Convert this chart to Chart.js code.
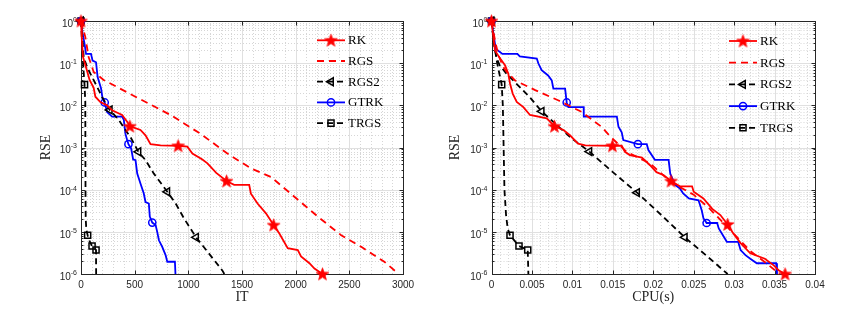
<!DOCTYPE html>
<html>
<head>
<meta charset="utf-8">
<script src="https://cdn.jsdelivr.net/npm/chart.js@4.4.1/dist/chart.umd.min.js"></script>
<style>
    html, body { margin: 0; padding: 0; background: #fff; }
    #wrap { position: relative; width: 858px; height: 317px; }
    canvas { position: absolute; top: 0; }
    #leftChart { left: 0; }
    #rightChart { left: 429px; }
</style>
</head>
<body>
<div id="wrap">
    <canvas id="leftChart" width="429" height="317"></canvas>
    <canvas id="rightChart" width="429" height="317"></canvas>
</div>
<script>
const seriesNames = ['RK', 'RGS', 'RGS2', 'GTRK', 'TRGS'];
const rseTicks = [1e-6, 1e-5, 1e-4, 1e-3, 1e-2, 1e-1, 1];

// RSE against iterations (left panel)
const itTicks = [0, 500, 1000, 1500, 2000, 2500, 3000];
const rkIt = [[0,1],[8,0.35],[19,0.14],[50,0.075],[80,0.04],[118,0.026],[134,0.016],[180,0.012],[243,0.010],[290,0.0076],[383,0.0059],[430,0.0041],[455,0.0032],[554,0.0026],[601,0.00195],[648,0.0012],[741,0.00112],[905,0.0011],[991,0.00105],[1038,7.2e-4],[1131,5.2e-4],[1178,4.2e-4],[1260,2.5e-4],[1356,1.6e-4],[1427,1.3e-4],[1567,1.3e-4],[1583,8.0e-5],[1645,4.7e-5],[1723,2.75e-5],[1795,1.45e-5],[1848,9.1e-6],[1926,4.1e-6],[2020,3.7e-6],[2050,2.6e-6],[2128,1.8e-6],[2175,1.35e-6],[2250,1e-6]];
const rgsIt = [[0,1],[40,0.42],[71,0.14],[118,0.062],[211,0.04],[507,0.016],[835,5.9e-3],[1115,2.1e-3],[1364,7.2e-4],[1583,3.2e-4],[1770,2.0e-4],[1988,6.8e-5],[2206,2.3e-5],[2424,8.3e-6],[2611,4.4e-6],[2826,1.95e-6],[2960,1e-6]];
const rgs2It = [[0,1],[10,0.5],[25,0.14],[56,0.081],[103,0.047],[150,0.0275],[196,0.0158],[268,0.0078],[352,0.0045],[414,0.0026],[467,0.00166],[535,7.9e-4],[601,5.0e-4],[679,2.4e-4],[804,8.9e-5],[882,4.7e-5],[959,2.1e-5],[1072,7.4e-6],[1178,3.4e-6],[1318,1.2e-6],[1335,1e-6]];
const gtrkIt = [[0,1],[15,0.5],[31,0.31],[47,0.166],[93,0.166],[108,0.115],[140,0.105],[155,0.047],[187,0.025],[202,0.014],[221,0.0117],[243,0.0069],[290,0.0054],[383,0.0054],[399,0.0045],[414,0.0021],[430,0.0015],[442,0.0012],[467,9.5e-4],[486,5.2e-4],[508,5.0e-4],[524,2.4e-4],[554,1.4e-4],[585,8.1e-5],[601,5.1e-5],[632,4.7e-5],[641,2.3e-5],[664,1.66e-5],[695,1.45e-5],[710,1.0e-5],[726,6.3e-6],[757,4.4e-6],[788,2.8e-6],[804,1.95e-6],[875,1.95e-6],[880,1e-6]];
const trgsIt = [[0,1],[10,0.3],[20,0.09],[33,0.031],[40,0.012],[41,1e-3],[42,1e-4],[44,2e-5],[50,1.1e-5],[62,8.3e-6],[80,6e-6],[103,4.6e-6],[120,4.2e-6],[140,3.7e-6],[141,1e-6]];
const rkItMarks = [0, 455, 905, 1356, 1795, 2250];
const rgsItMarks = [];
const rgs2ItMarks = [0, 268, 535, 804, 1072];
const gtrkItMarks = [0, 221, 442, 664];
const trgsItMarks = [0, 33, 62, 103, 140];

// RSE against CPU time in seconds (right panel)
const cpuTicks = [0, 0.005, 0.01, 0.015, 0.02, 0.025, 0.03, 0.035, 0.04];
const rkCpu = [[0,1],[0.00023,0.42],[0.00043,0.2],[0.00105,0.13],[0.00167,0.089],[0.00208,0.056],[0.00229,0.033],[0.00262,0.019],[0.00312,0.012],[0.00394,0.0091],[0.00476,0.0059],[0.00683,0.0049],[0.00778,0.0032],[0.0089,0.0026],[0.0097,0.00195],[0.0107,0.00123],[0.0116,0.00112],[0.01495,0.0011],[0.0161,0.0011],[0.0165,7.9e-4],[0.0171,6.6e-4],[0.0186,5.75e-4],[0.0196,3.8e-4],[0.0204,2.6e-4],[0.0213,2.2e-4],[0.0222,1.6e-4],[0.0233,1.2e-4],[0.0248,1.2e-4],[0.025,8.9e-5],[0.0262,6.2e-5],[0.0273,3.5e-5],[0.0283,2.5e-5],[0.0292,1.5e-5],[0.0299,9.1e-6],[0.0308,5.4e-6],[0.032,3.1e-6],[0.0338,2.3e-6],[0.0349,1.6e-6],[0.0355,1.23e-6],[0.0363,1e-6]];
const rgsCpu = [[0,1],[0.00043,0.35],[0.00085,0.155],[0.00146,0.081],[0.00188,0.062],[0.00291,0.039],[0.0054,0.023],[0.0083,0.013],[0.0112,0.0069],[0.0136,0.0031],[0.0147,0.0018],[0.0167,7.9e-4],[0.0196,4.2e-4],[0.0222,1.5e-4],[0.025,7.6e-5],[0.027,3.5e-5],[0.029,1.4e-5],[0.0305,7e-6],[0.032,3.5e-6],[0.034,1.8e-6],[0.0356,1e-6]];
const rgs2Cpu = [[0,1],[0.00025,0.35],[0.00064,0.13],[0.001,0.09],[0.0019,0.055],[0.0035,0.027],[0.0048,0.015],[0.0062,0.0072],[0.008,0.0035],[0.01,0.0016],[0.0121,8e-4],[0.015,2.6e-4],[0.018,8.5e-5],[0.021,2.5e-5],[0.0239,7.4e-6],[0.0265,2.8e-6],[0.0292,1e-6]];
const gtrkCpu = [[0,1],[0.00052,0.22],[0.00134,0.166],[0.0032,0.166],[0.0035,0.145],[0.0056,0.129],[0.0058,0.098],[0.0062,0.068],[0.007,0.051],[0.00745,0.039],[0.00765,0.025],[0.0091,0.025],[0.0093,0.0117],[0.0095,0.0091],[0.0114,0.0091],[0.01141,0.0054],[0.0155,0.0054],[0.0157,0.0031],[0.0161,0.0023],[0.0163,0.0015],[0.0181,0.0012],[0.0192,0.0012],[0.0194,8.7e-4],[0.0202,5.1e-4],[0.0219,5.1e-4],[0.0221,2.4e-4],[0.0227,1.3e-4],[0.0233,1.07e-4],[0.0237,8.1e-5],[0.0244,6.2e-5],[0.0256,5.6e-5],[0.026,3.2e-5],[0.0262,2.1e-5],[0.0266,1.62e-5],[0.0279,1.62e-5],[0.0281,1.2e-5],[0.0291,5.8e-6],[0.0305,5.8e-6],[0.0308,3.7e-6],[0.0314,2.8e-6],[0.032,2.3e-6],[0.0328,1.8e-6],[0.0352,1.8e-6],[0.0353,1e-6]];
const trgsCpu = [[0,1],[0.0003,0.3],[0.0007,0.1],[0.00126,0.031],[0.0014,0.01],[0.0015,1e-3],[0.0016,1e-4],[0.0018,2.5e-5],[0.002,1.2e-5],[0.00229,8.3e-6],[0.0034,4.6e-6],[0.00448,3.7e-6],[0.00456,1e-6]];
const rkCpuMarks = [0, 0.00778, 0.01495, 0.0222, 0.0292, 0.0363];
const rgsCpuMarks = [];
const rgs2CpuMarks = [0, 0.0062, 0.0121, 0.018, 0.0239];
const gtrkCpuMarks = [0, 0.0093, 0.0181, 0.0266];
const trgsCpuMarks = [0, 0.00126, 0.00229, 0.0034, 0.00448];

function makeStar(color) {
    const c = document.createElement('canvas');
    c.width = 15;
    c.height = 15;
    const g = c.getContext('2d');
    g.beginPath();
    for (let i = 0; i < 10; i++) {
        const r = i % 2 === 0 ? 6.6 : 2.7;
        const ang = -Math.PI / 2 + i * Math.PI / 5;
        const px = 7.5 + r * Math.cos(ang);
        const py = 8 + r * Math.sin(ang);
        if (i === 0) g.moveTo(px, py); else g.lineTo(px, py);
    }
    g.closePath();
    g.fillStyle = color;
    g.fill();
    g.strokeStyle = color;
    g.lineWidth = 0.8;
    g.stroke();
    return c;
}

const styles = {
    RK:   { color: '#ff0000', dash: [], point: makeStar('#ff0000'), radius: 6 },
    RGS:  { color: '#ff0000', dash: [7, 5], point: false, radius: 0 },
    RGS2: { color: '#000000', dash: [6, 4], point: 'triangle', rotation: -90, radius: 4.5 },
    GTRK: { color: '#0000ff', dash: [], point: 'circle', radius: 3.6 },
    TRGS: { color: '#000000', dash: [6, 4], point: 'rect', radius: 4.3 }
};

function makeDataset(name, pts, marks) {
    const s = styles[name];
    return {
        label: name,
        data: pts.map(p => ({ x: p[0], y: p[1] })),
        borderColor: s.color,
        borderWidth: 1.8,
        borderDash: s.dash,
        pointStyle: s.point,
        pointRotation: s.rotation || 0,
        pointBorderColor: s.color,
        pointBackgroundColor: 'rgba(0,0,0,0)',
        pointBorderWidth: 1.5,
        pointRadius: ctx => (ctx.raw && marks.includes(ctx.raw.x) ? s.radius : 0),
        markSize: s.radius,
        tension: 0,
        clip: false
    };
}

// grid, box, tick marks, tick labels and the in-plot legend
const framePlugin = {
    id: 'frame',
    beforeDatasetsDraw(chart, args, opts) {
        const { ctx, chartArea: a } = chart;
        const xs = chart.scales.x;
        const ys = chart.scales.y;
        const snap = v => Math.round(v) + 0.5;
        ctx.save();
        ctx.lineWidth = 1;

        // minor grid
        ctx.strokeStyle = '#d6d6d6';
        ctx.setLineDash([1, 2]);
        ctx.beginPath();
        const n = Math.round((xs.max - xs.min) / opts.xMinor);
        for (let i = 1; i < n; i++) {
            if (i % 5 === 0) continue;
            const px = snap(xs.getPixelForValue(xs.min + i * opts.xMinor));
            ctx.moveTo(px, a.top);
            ctx.lineTo(px, a.bottom);
        }
        for (let k = -6; k < 0; k++) {
            for (let m = 2; m <= 9; m++) {
                const py = snap(ys.getPixelForValue(m * Math.pow(10, k)));
                ctx.moveTo(a.left, py);
                ctx.lineTo(a.right, py);
            }
        }
        ctx.stroke();

        // major grid
        ctx.setLineDash([]);
        ctx.strokeStyle = '#e0e0e0';
        ctx.beginPath();
        opts.xTicks.slice(1, -1).forEach(v => {
            const px = snap(xs.getPixelForValue(v));
            ctx.moveTo(px, a.top);
            ctx.lineTo(px, a.bottom);
        });
        rseTicks.slice(1, -1).forEach(v => {
            const py = snap(ys.getPixelForValue(v));
            ctx.moveTo(a.left, py);
            ctx.lineTo(a.right, py);
        });
        ctx.stroke();

        // box and inward ticks
        ctx.strokeStyle = '#262626';
        const L = snap(a.left), R = snap(a.right), T = snap(a.top), B = snap(a.bottom);
        ctx.strokeRect(L, T, R - L, B - T);
        ctx.beginPath();
        opts.xTicks.forEach(v => {
            const px = snap(xs.getPixelForValue(v));
            ctx.moveTo(px, B); ctx.lineTo(px, B - 4);
            ctx.moveTo(px, T); ctx.lineTo(px, T + 4);
        });
        for (let k = -6; k <= 0; k++) {
            for (let m = 1; m <= 9; m++) {
                if (k === 0 && m > 1) break;
                const len = m === 1 ? 4 : 2;
                const py = snap(ys.getPixelForValue(m * Math.pow(10, k)));
                ctx.moveTo(L, py); ctx.lineTo(L + len, py);
                ctx.moveTo(R, py); ctx.lineTo(R - len, py);
            }
        }
        ctx.stroke();

        // x tick labels
        ctx.fillStyle = '#262626';
        ctx.font = '10px "Liberation Sans"';
        ctx.textAlign = 'center';
        ctx.textBaseline = 'middle';
        opts.xTicks.forEach(v => {
            ctx.fillText(opts.xFormat(v), xs.getPixelForValue(v), a.bottom + 11);
        });

        // y tick labels as 10 with raised exponent
        ctx.textAlign = 'right';
        rseTicks.forEach(v => {
            const py = ys.getPixelForValue(v);
            const e = String(Math.round(Math.log10(v)));
            ctx.font = '7px "Liberation Sans"';
            const ew = ctx.measureText(e).width;
            ctx.fillText(e, a.left - 4, py - 1);
            ctx.font = '10px "Liberation Sans"';
            ctx.fillText('10', a.left - 4 - ew, py + 3);
        });
        ctx.restore();
    },
    afterDraw(chart, args, opts) {
        const { ctx, chartArea: a } = chart;
        const drawPoint = Chart.helpers && Chart.helpers.drawPoint;
        ctx.save();
        chart.data.datasets.forEach((ds, i) => {
            const yy = a.top + opts.legendTop + i * opts.legendGap;
            const x1 = a.right - 86;
            const x2 = a.right - 58;
            ctx.strokeStyle = ds.borderColor;
            ctx.lineWidth = ds.borderWidth;
            ctx.setLineDash(ds.borderDash);
            ctx.beginPath();
            ctx.moveTo(x1, yy);
            ctx.lineTo(x2, yy);
            ctx.stroke();
            ctx.setLineDash([]);
            if (ds.pointStyle && drawPoint) {
                ctx.fillStyle = ds.pointBackgroundColor;
                ctx.strokeStyle = ds.pointBorderColor;
                ctx.lineWidth = ds.pointBorderWidth;
                drawPoint(ctx, {
                    pointStyle: ds.pointStyle,
                    rotation: ds.pointRotation,
                    radius: ds.markSize,
                    borderWidth: ds.pointBorderWidth
                }, (x1 + x2) / 2, yy);
            }
            ctx.fillStyle = '#000';
            ctx.font = '13px "Liberation Serif"';
            ctx.textAlign = 'left';
            ctx.textBaseline = 'middle';
            ctx.fillText(ds.label, x2 + 3, yy + 0.5);
        });
        ctx.restore();
    }
};

function makeChart(canvasId, cfg) {
    const ctx = document.getElementById(canvasId).getContext('2d');
    return new Chart(ctx, {
        type: 'line',
        data: {
            datasets: seriesNames.map((name, i) => makeDataset(name, cfg.series[i], cfg.marks[i]))
        },
        plugins: [framePlugin],
        options: {
            responsive: false,
            animation: false,
            events: [],
            layout: { padding: { left: 0, top: 21, right: cfg.padRight, bottom: 0 } },
            plugins: {
                legend: { display: false },
                tooltip: { enabled: false },
                frame: {
                    xTicks: cfg.xTicks,
                    xMinor: cfg.xMinor,
                    xFormat: cfg.xFormat,
                    legendTop: cfg.legendTop,
                    legendGap: cfg.legendGap
                }
            },
            scales: {
                x: {
                    type: 'linear',
                    min: cfg.xTicks[0],
                    max: cfg.xTicks[cfg.xTicks.length - 1],
                    grid: { display: false },
                    border: { display: false },
                    afterBuildTicks: scale => { scale.ticks = cfg.xTicks.map(v => ({ value: v })); },
                    afterFit: scale => { scale.height = 43; },
                    ticks: { display: false },
                    title: {
                        display: true,
                        text: cfg.xTitle,
                        color: '#262626',
                        font: { family: 'Liberation Serif', size: 14 },
                        padding: { top: 0, bottom: 11 }
                    }
                },
                y: {
                    type: 'logarithmic',
                    min: 1e-6,
                    max: 1,
                    grid: { display: false },
                    border: { display: false },
                    afterBuildTicks: scale => { scale.ticks = rseTicks.map(v => ({ value: v })); },
                    afterFit: scale => { scale.width = cfg.yWidth; },
                    ticks: { display: false },
                    title: {
                        display: true,
                        text: 'RSE',
                        color: '#262626',
                        font: { family: 'Liberation Serif', size: 14 },
                        padding: { top: cfg.yTitlePad, bottom: 0 }
                    }
                }
            }
        }
    });
}

makeChart('leftChart', {
    series: [rkIt, rgsIt, rgs2It, gtrkIt, trgsIt],
    marks: [rkItMarks, rgsItMarks, rgs2ItMarks, gtrkItMarks, trgsItMarks],
    xTicks: itTicks,
    xMinor: 100,
    xTitle: 'IT',
    xFormat: v => String(v),
    yWidth: 81,
    yTitlePad: 37.6,
    padRight: 26,
    legendTop: 19.3,
    legendGap: 20.7
});

makeChart('rightChart', {
    series: [rkCpu, rgsCpu, rgs2Cpu, gtrkCpu, trgsCpu],
    marks: [rkCpuMarks, rgsCpuMarks, rgs2CpuMarks, gtrkCpuMarks, trgsCpuMarks],
    xTicks: cpuTicks,
    xMinor: 0.001,
    xTitle: 'CPU(s)',
    xFormat: v => (v === 0 ? '0' : String(+v.toFixed(3))),
    yWidth: 62.5,
    yTitlePad: 17.6,
    padRight: 43,
    legendTop: 20,
    legendGap: 21.7
});
</script>
</body>
</html>
